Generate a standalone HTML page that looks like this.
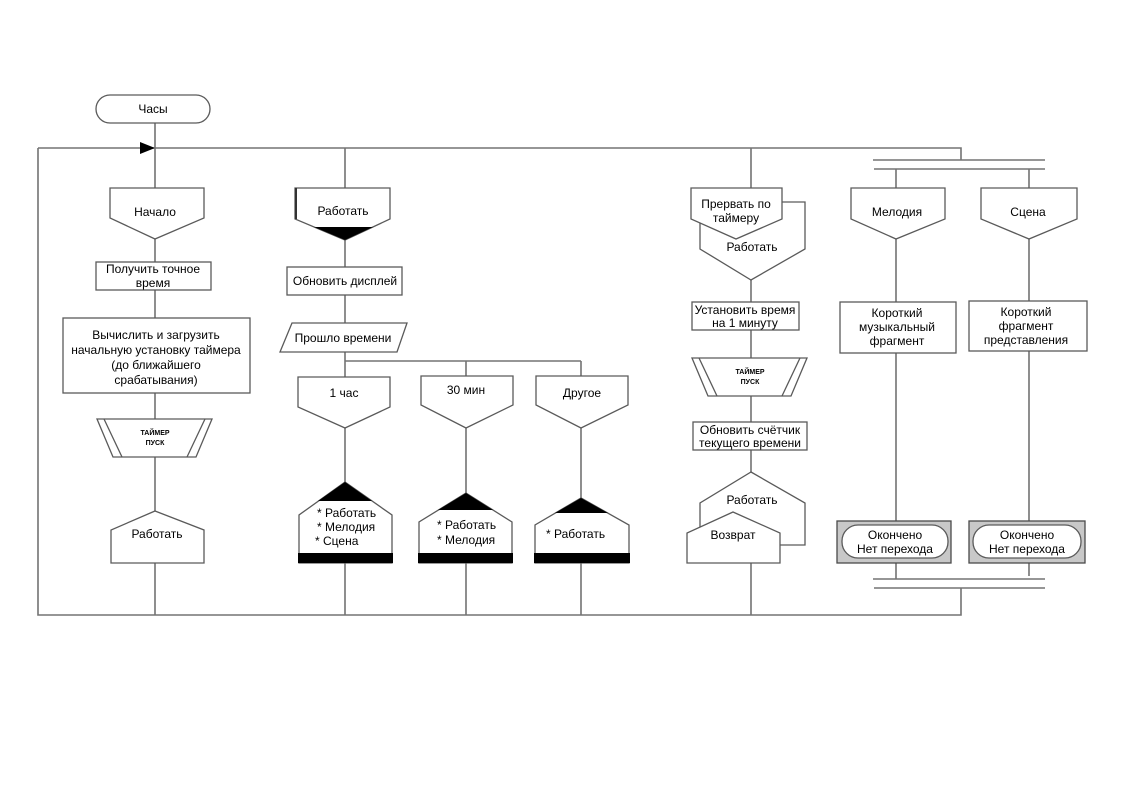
<!DOCTYPE html>
<html><head><meta charset="utf-8"><style>
html,body{margin:0;padding:0;background:#fff;}
svg{display:block;}
text{font-family:"Liberation Sans",Arial,sans-serif;font-size:12px;fill:#000;}
.c{fill:none;stroke:#737373;stroke-width:1.6;}
.s{fill:#fff;stroke:#5a5a5a;stroke-width:1.3;}
.b{fill:#000;stroke:none;}
.t{font-size:7px;font-weight:bold;}
</style></head><body>
<svg width="1123" height="794" viewBox="0 0 1123 794" xmlns="http://www.w3.org/2000/svg">
<!-- main loop -->
<path class="c" d="M38 148 H961 V160"/>
<path class="c" d="M38 148 V615 H961 V588"/>
<polygon points="140,142 140,154 155,148" fill="#000"/>
<!-- sync bars -->
<line class="c" x1="873" y1="160" x2="1045" y2="160"/>
<line class="c" x1="874" y1="169" x2="1045" y2="169"/>
<line class="c" x1="873" y1="579" x2="1045" y2="579"/>
<line class="c" x1="874" y1="588" x2="1045" y2="588"/>

<!-- column 1 connectors -->
<path class="c" d="M155 123 V188 M155 239 V262 M155 290 V318 M155 393 V419 M155 457 V511 M155 563 V615"/>
<!-- column 2 connectors -->
<path class="c" d="M345 148 V188 M345 240 V267 M345 295 V323 M345 352 V377 M345 361 H581 M466 361 V376 M581 361 V376 M345 428 V482 M466 428 V493 M581 428 V498 M345 563 V615 M466 563 V615 M581 563 V615"/>
<!-- column 4 connectors -->
<path class="c" d="M751 148 V188 M751 280 V302 M751 330 V358 M751 396 V422 M751 450 V472 M751 563 V615"/>
<!-- column 5 connectors -->
<path class="c" d="M896 169 V188 M1029 169 V188 M896 239 V302 M1029 239 V301 M896 353 V521 M1029 351 V521 M896 563 V579 M1029 563 V576"/>

<!-- Column 1 shapes -->
<rect class="s" x="96" y="95" width="114" height="28" rx="14" ry="14"/>
<text x="153" y="113" text-anchor="middle">Часы</text>

<polygon class="s" points="110,188 204,188 204,218 155,239 110,218"/>
<text x="155" y="216" text-anchor="middle">Начало</text>

<rect class="s" x="96" y="262" width="115" height="28"/>
<text x="153" y="273" text-anchor="middle">Получить точное</text>
<text x="153" y="287" text-anchor="middle">время</text>

<rect class="s" x="63" y="318" width="187" height="75"/>
<text x="156" y="339" text-anchor="middle">Вычислить и загрузить</text>
<text x="156" y="354" text-anchor="middle">начальную установку таймера</text>
<text x="156" y="369" text-anchor="middle">(до ближайшего</text>
<text x="156" y="384" text-anchor="middle">срабатывания)</text>

<polygon class="s" points="97,419 212,419 196,457 113,457"/>
<line class="s" x1="104" y1="419" x2="122" y2="457"/>
<line class="s" x1="205" y1="419" x2="187" y2="457"/>
<text class="t" x="155" y="435" text-anchor="middle">ТАЙМЕР</text>
<text class="t" x="155" y="445" text-anchor="middle">ПУСК</text>

<polygon class="s" points="155,511 204,530 204,563 111,563 111,530"/>
<text x="157" y="538" text-anchor="middle">Работать</text>

<!-- Column 2 shapes -->
<polygon class="s" points="295,188 390,188 390,219 345,240 295,219"/>
<polygon class="b" points="314,227 373,227 345,240"/>
<line x1="296" y1="188" x2="296" y2="219" stroke="#333" stroke-width="2"/>
<text x="343" y="215" text-anchor="middle">Работать</text>

<rect class="s" x="287" y="267" width="115" height="28"/>
<text x="345" y="285" text-anchor="middle">Обновить дисплей</text>

<polygon class="s" points="292,323 407,323 397,352 280,352"/>
<text x="343" y="342" text-anchor="middle">Прошло времени</text>

<polygon class="s" points="298,377 390,377 390,407 345,428 298,407"/>
<text x="344" y="397" text-anchor="middle">1 час</text>
<polygon class="s" points="421,376 513,376 513,405 466,428 421,405"/>
<text x="466" y="394" text-anchor="middle">30 мин</text>
<polygon class="s" points="536,376 628,376 628,405 581,428 536,405"/>
<text x="582" y="397" text-anchor="middle">Другое</text>

<polygon class="s" points="345,482 392,515 392,563 299,563 299,515"/>
<polygon class="b" points="345,482 372,501 318,501"/>
<rect class="b" x="298" y="553" width="95" height="10"/>
<text x="317" y="517">* Работать</text>
<text x="317" y="531">* Мелодия</text>
<text x="315" y="545">* Сцена</text>

<polygon class="s" points="466,493 512,522 512,563 419,563 419,522"/>
<polygon class="b" points="466,493 493,510 438,510"/>
<rect class="b" x="418" y="553" width="95" height="10"/>
<text x="437" y="529">* Работать</text>
<text x="437" y="544">* Мелодия</text>

<polygon class="s" points="581,498 629,525 629,563 535,563 535,525"/>
<polygon class="b" points="581,498 608,513 555,513"/>
<rect class="b" x="534" y="553" width="96" height="10"/>
<text x="546" y="538">* Работать</text>

<!-- Column 4 shapes -->
<polygon class="s" points="700,202 805,202 805,249 751,280 700,249"/>
<text x="752" y="251" text-anchor="middle">Работать</text>
<polygon class="s" points="691,188 782,188 782,219 736,239 691,219"/>
<text x="736" y="208" text-anchor="middle">Прервать по</text>
<text x="736" y="222" text-anchor="middle">таймеру</text>

<rect class="s" x="692" y="302" width="107" height="28"/>
<text x="745" y="314" text-anchor="middle">Установить время</text>
<text x="745" y="327" text-anchor="middle">на 1 минуту</text>

<polygon class="s" points="692,358 807,358 791,396 708,396"/>
<line class="s" x1="699" y1="358" x2="717" y2="396"/>
<line class="s" x1="800" y1="358" x2="782" y2="396"/>
<text class="t" x="750" y="374" text-anchor="middle">ТАЙМЕР</text>
<text class="t" x="750" y="384" text-anchor="middle">ПУСК</text>

<rect class="s" x="693" y="422" width="114" height="28"/>
<text x="750" y="434" text-anchor="middle">Обновить счётчик</text>
<text x="750" y="447" text-anchor="middle">текущего времени</text>

<polygon class="s" points="751,472 805,503 805,545 700,545 700,503"/>
<text x="752" y="504" text-anchor="middle">Работать</text>
<polygon class="s" points="733,512 780,533 780,563 687,563 687,533"/>
<text x="733" y="539" text-anchor="middle">Возврат</text>

<!-- Column 5 shapes -->
<polygon class="s" points="851,188 945,188 945,219 896,239 851,219"/>
<text x="897" y="216" text-anchor="middle">Мелодия</text>
<polygon class="s" points="981,188 1077,188 1077,219 1029,239 981,219"/>
<text x="1028" y="216" text-anchor="middle">Сцена</text>

<rect class="s" x="840" y="302" width="116" height="51"/>
<text x="897" y="317" text-anchor="middle">Короткий</text>
<text x="897" y="331" text-anchor="middle">музыкальный</text>
<text x="897" y="345" text-anchor="middle">фрагмент</text>

<rect class="s" x="969" y="301" width="118" height="50"/>
<text x="1026" y="316" text-anchor="middle">Короткий</text>
<text x="1026" y="330" text-anchor="middle">фрагмент</text>
<text x="1026" y="344" text-anchor="middle">представления</text>

<rect x="837" y="521" width="114" height="42" fill="#c8c8c8" stroke="#4a4a4a" stroke-width="1.3"/>
<rect class="s" x="842" y="525" width="106" height="33" rx="16" ry="16"/>
<text x="895" y="539" text-anchor="middle">Окончено</text>
<text x="895" y="553" text-anchor="middle">Нет перехода</text>

<rect x="969" y="521" width="116" height="42" fill="#c8c8c8" stroke="#4a4a4a" stroke-width="1.3"/>
<rect class="s" x="973" y="525" width="108" height="33" rx="16" ry="16"/>
<text x="1027" y="539" text-anchor="middle">Окончено</text>
<text x="1027" y="553" text-anchor="middle">Нет перехода</text>
</svg>
</body></html>
